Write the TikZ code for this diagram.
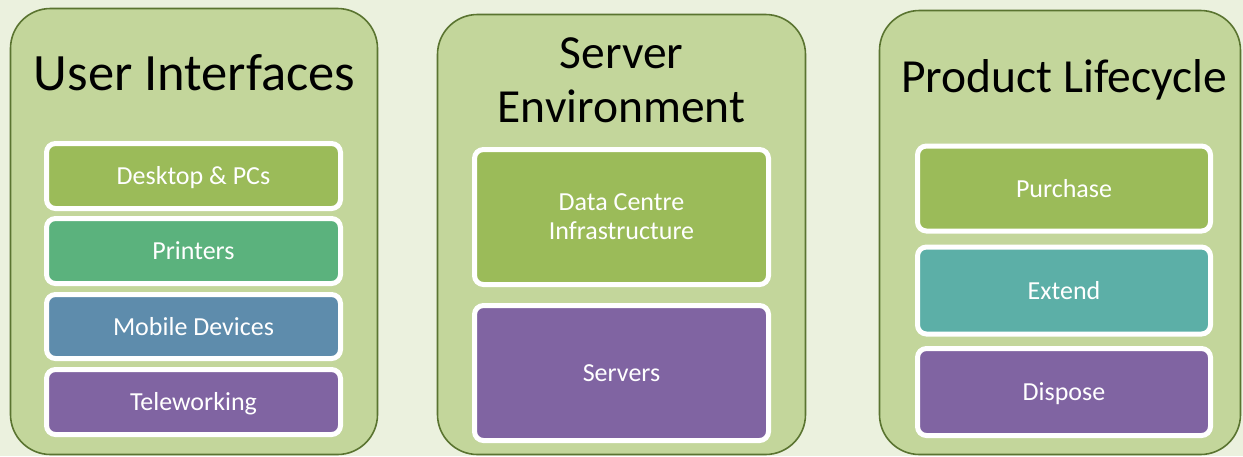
\documentclass[tikz,border=0pt]{standalone}
\usepackage{fontspec}
\setmainfont{Carlito}
\definecolor{bgc}{HTML}{EBF1DE}
\definecolor{panelc}{HTML}{C3D69B}
\definecolor{paneld}{HTML}{5A7430}
\definecolor{cgreen}{HTML}{9BBB59}
\definecolor{cteal}{HTML}{5BB27D}
\definecolor{cblue}{HTML}{5E8CAC}
\definecolor{cpurple}{HTML}{8064A2}
\definecolor{caqua}{HTML}{5CAFA7}
\tikzset{
  panel/.style={draw=paneld, fill=panelc, line width=1.6pt, rounded corners=40pt, inner sep=0pt, outer sep=0pt},
  ttl/.style={text=black, font=\fontsize{47.5}{54}\selectfont, align=center, inner sep=0pt},
  ibox/.style={draw=white, line width=5pt, rounded corners=9pt, inner sep=0pt, outer sep=0pt,
    text=white, font=\fontsize{26}{29}\selectfont, align=center, text height=17pt, text depth=0pt},
}
\begin{document}
\begin{tikzpicture}[x=1pt,y=1pt]
\fill[bgc] (0,0) rectangle (1243,-456);
\useasboundingbox (0,0) rectangle (1243,-456);
% panels
\node[panel, minimum width=367pt, minimum height=446pt] (p1) at (194,-231.5) {};
\node[panel, minimum width=368pt, minimum height=440pt] (p2) at (621.5,-234.5) {};
\node[panel, minimum width=361pt, minimum height=444pt] (p3) at (1060,-232.5) {};
% titles
\node[ttl, anchor=base, font=\fontsize{52.5}{54}\selectfont] (t1) at (194.5,-90) {User Interfaces};
\node[ttl] (t2) at (621.5,-80) {Server\\Environment};
\node[ttl, anchor=base] (t3) at (1064,-92) {Product Lifecycle};
% panel 1 boxes
\node[ibox, fill=cgreen, minimum width=294pt, minimum height=65pt] (b1) at (193.5,-176) {Desktop \& PCs};
\node[ibox, fill=cteal, minimum width=294pt, minimum height=65pt] (b2) at (193.5,-251) {Printers};
\node[ibox, fill=cblue, minimum width=294pt, minimum height=64pt] (b3) at (193.5,-326.5) {Mobile Devices};
\node[ibox, fill=cpurple, minimum width=294pt, minimum height=65pt] (b4) at (193.5,-402) {Teleworking};
% panel 2 boxes
\node[ibox, fill=cgreen, minimum width=294pt, minimum height=135pt, text height=] (c1) at (621.5,-217) {Data Centre\\Infrastructure};
\node[ibox, fill=cpurple, minimum width=294pt, minimum height=135pt] (c2) at (621.5,-373) {Servers};
% panel 3 boxes
\node[ibox, fill=cgreen, minimum width=293pt, minimum height=85pt] (d1) at (1064,-188.5) {Purchase};
\node[ibox, fill=caqua, minimum width=293pt, minimum height=87pt] (d2) at (1064,-290.5) {Extend};
\node[ibox, fill=cpurple, minimum width=293pt, minimum height=87pt] (d3) at (1064,-392) {Dispose};
\end{tikzpicture}
\end{document}
